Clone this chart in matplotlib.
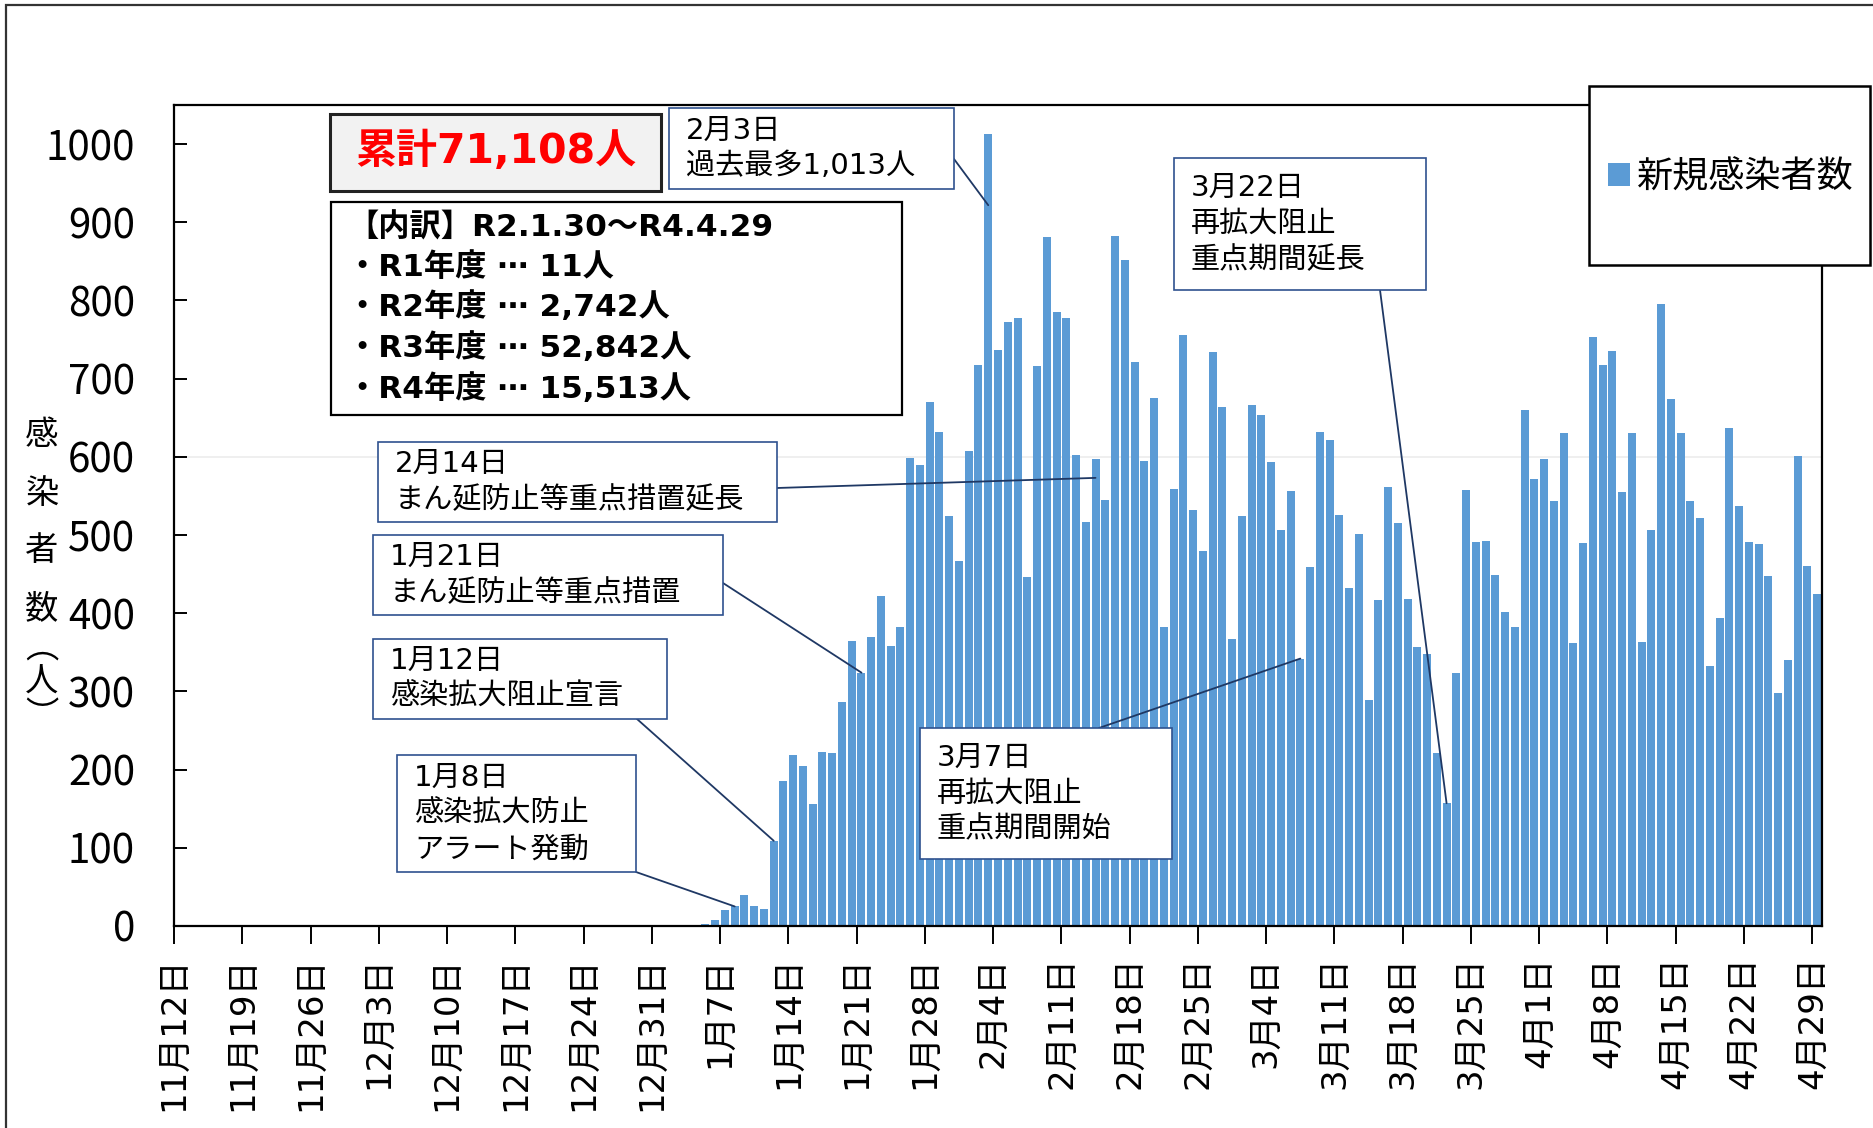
import numpy as np
import pandas as pd
import matplotlib
matplotlib.use("Agg")
import matplotlib.pyplot as plt
from matplotlib.patches import Rectangle

plt.rcParams['font.family'] = ['DejaVu Sans', 'Noto Sans CJK JP']

# daily new cases, 2021-11-12 .. 2022-04-29
start = "2021-11-12"
nov = [0, 0, 0, 0, 0, 0, 0, 0, 0, 0, 0, 0, 0, 0, 0, 0, 0, 0, 0]
dec = [0, 0, 0, 0, 0, 0, 0, 0, 0, 0, 0, 0, 0, 0, 0, 0,
       0, 0, 0, 0, 0, 0, 0, 0, 0, 0, 0, 0, 0, 0, 0]
jan = [1, 1, 0, 0, 2, 8, 20, 25, 40, 26, 22, 109, 185, 219, 205, 156,
       223, 221, 286, 364, 324, 369, 422, 358, 382, 599, 590, 670, 632, 524, 467]
feb = [607, 718, 1013, 737, 772, 777, 446, 716, 881, 785, 777, 603, 517, 597,
       545, 882, 852, 721, 595, 675, 383, 559, 756, 532, 480, 734, 664, 367]
mar = [524, 666, 653, 593, 506, 556, 342, 459, 632, 621, 526, 432, 501, 289, 417, 562,
       516, 418, 357, 348, 221, 157, 324, 557, 491, 493, 449, 402, 383, 660, 572]
apr = [597, 544, 630, 362, 490, 753, 717, 736, 555, 630, 363, 506, 796, 674, 631,
       544, 522, 333, 394, 637, 537, 491, 488, 447, 298, 340, 601, 461, 424]
cases = nov + dec + jan + feb + mar + apr
dates = pd.date_range(start, periods=len(cases))

legend_label = "新規感染者数"
ylabel_chars = "感\n染\n者\n数"
ylabel_paren = "︵\n人\n︶"
total_text = "累計71,108人"
breakdown_text = ("【内訳】R2.1.30～R4.4.29\n"
                  "・R1年度 ⋯ 11人\n"
                  "・R2年度 ⋯ 2,742人\n"
                  "・R3年度 ⋯ 52,842人\n"
                  "・R4年度 ⋯ 15,513人")

# callouts: (box px left, top, right, bottom), text, date, line start px, fraction of bar height
callouts = [
    ((669, 108, 954, 189), "2月3日\n過去最多1,013人", "2022-02-03", (954, 159), 0.91),
    ((378, 442, 777, 522), "2月14日\nまん延防止等重点措置延長", "2022-02-14", (777, 488), 0.96),
    ((373, 535, 723, 615), "1月21日\nまん延防止等重点措置", "2022-01-21", (723, 583), 1.0),
    ((373, 639, 667, 719), "1月12日\n感染拡大阻止宣言", "2022-01-12", (637, 719), 1.0),
    ((397, 755, 636, 872), "1月8日\n感染拡大防止\nアラート発動", "2022-01-08", (636, 872), 1.0),
    ((920, 728, 1172, 859), "3月7日\n再拡大阻止\n重点期間開始", "2022-03-07", (1099, 728), 1.0),
    ((1174, 158, 1426, 290), "3月22日\n再拡大阻止\n重点期間延長", "2022-03-22", (1380, 290), 1.0),
]

BLUE = "#5B9BD5"
NAVY = "#2F528F"
LINE = "#1F3864"

W, H = 1874, 1128


def fx(px):
    return px / W


def fy(py):
    return 1 - py / H


fig = plt.figure(figsize=(W / 100, H / 100), dpi=100)
ax = fig.add_axes([fx(174), fy(926), (1822 - 174) / W, (926 - 105) / H])

x = np.arange(len(cases))
bars = ax.bar(x, cases, width=0.82, color=BLUE, zorder=2)
ax.axhline(600, color="#ececec", lw=1.2, zorder=1)

ax.set_xlim(-0.5, len(cases) - 0.5)
ax.set_ylim(0, 1050)
ax.set_yticks(range(0, 1001, 100))
ax.set_xticks(x[::7] - 0.5)
ax.set_xticklabels([f"{d.month}月{d.day}日" for d in dates[::7]], rotation=90, fontsize=24.5)
for lab in ax.get_yticklabels():
    lab.set_family("Noto Sans CJK JP")
    lab.set_fontsize(29)
for s in ax.spines.values():
    s.set_linewidth(1.6)
    s.set_color("black")
ax.tick_params(axis="y", direction="in", length=9.5, width=1.4, pad=28)
ax.tick_params(axis="x", direction="out", length=13, width=1.4, pad=9)

# y label, stacked vertically
fig.text(fx(42), fy(522), ylabel_chars, ha="center", va="center", fontsize=24,
         family="Noto Sans CJK JP", linespacing=1.85)
fig.text(fx(42), fy(682), ylabel_paren, ha="center", va="center", fontsize=24,
         family="Noto Sans CJK JP", linespacing=0.95)

# outer frame
fig.patches.append(Rectangle((fx(6), -0.1), 1.2, fy(5) + 0.1, transform=fig.transFigure,
                             fill=False, ec="#333333", lw=1.6))


def box(l, t, r, b, fc="white", ec=NAVY, lw=1.2):
    fig.patches.append(Rectangle((fx(l), fy(b)), (r - l) / W, (b - t) / H,
                                 transform=fig.transFigure, fc=fc, ec=ec, lw=lw, zorder=1))


# total and breakdown
box(330, 114, 661, 191, fc="#F2F2F2", ec="#222222", lw=2.2)
fig.text(fx(495.5), fy(152), total_text, ha="center", va="center", fontsize=29.5,
         fontweight="bold", color="#FF0000")
box(331, 202, 902, 415, ec="black", lw=1.6)
fig.text(fx(347), fy(308), breakdown_text, ha="left", va="center", fontsize=22.5,
         fontweight="bold", linespacing=1.4)

# callouts
for (l, t, r, b), txt, day, (sx, sy), frac in callouts:
    i = (pd.Timestamp(day) - dates[0]).days
    ax.annotate("", xy=(i, cases[i] * frac), xycoords="data",
                xytext=(fx(sx), fy(sy)), textcoords="figure fraction",
                arrowprops=dict(arrowstyle="-", color=LINE, lw=1.3, shrinkA=0, shrinkB=0),
                zorder=5)
    box(l, t, r, b)
    fig.text(fx(l + 17), fy((t + b) / 2), txt, ha="left", va="center", fontsize=21,
             linespacing=1.35)

# legend
box(1589, 86, 1870, 265, ec="black", lw=1.8)
fig.legend([bars], [legend_label], loc="center left", bbox_to_anchor=(fx(1590), fy(177)),
           frameon=False, handlelength=0.6, handleheight=0.6,
           handletextpad=0.2, borderpad=0, prop={"family": "Noto Sans CJK JP", "size": 26})

fig.savefig("out.png", dpi=100)
